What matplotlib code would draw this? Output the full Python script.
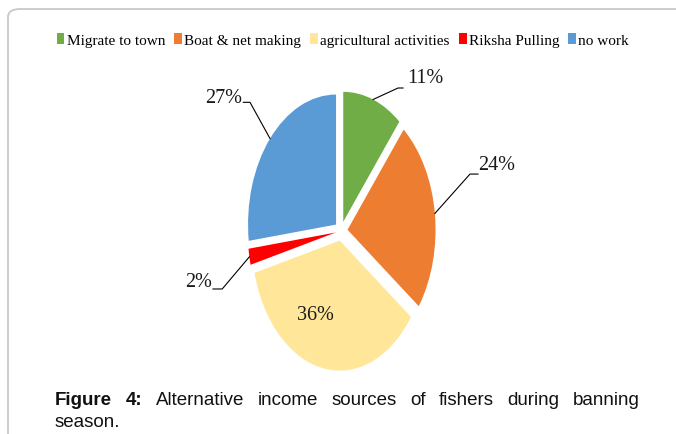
import numpy as np
import matplotlib.pyplot as plt
from matplotlib.patches import FancyBboxPatch, Patch

# data
labels = ['Migrate to town', 'Boat & net making', 'agricultural activities',
          'Riksha Pulling', 'no work']
shares = [11, 24, 36, 2, 27]
pct_text = ['11%', '24%', '36%', '2%', '27%']
colors = ['#70AD47', '#ED7D31', '#FFE699', '#FF0000', '#5B9BD5']

caption_bold = 'Figure 4:'
caption_line1 = 'Alternative income sources of fishers during banning'
caption_line2 = 'season.'

W, H = 676, 435
fig = plt.figure(figsize=(W / 100, H / 100), dpi=100)

def fx(px):
    return px / W

def fy(py):
    return 1 - py / H

# rounded frame around the chart
frame = FancyBboxPatch((fx(8), fy(470)), fx(760), fy(10) - fy(470),
                       boxstyle='round,pad=0,rounding_size=0.018',
                       transform=fig.transFigure, facecolor='none',
                       edgecolor='#c8c8c8', linewidth=1.3, clip_on=False)
fig.patches.append(frame)

# elliptical pie: axes taller than wide, aspect left free
ax = fig.add_axes([fx(209), fy(427), fx(264), 390 / H])
wedges, _ = ax.pie(shares, colors=colors, startangle=90, counterclock=False,
                   explode=[0.075, 0.075, 0.075, 0.06, 0.075], radius=1.0,
                   wedgeprops=dict(linewidth=0))
ax.set_aspect('auto')
ax.set_xlim(-1.5, 1.5)
ax.set_ylim(-1.5, 1.5)
ax.axis('off')

# label layout: (elbow, line end, text pos, ha) in data units
label_layout = [
    ((0.648, 1.10), (0.705, 1.10), (0.75, 1.177), 'left'),
    ((1.466, 0.438), (1.557, 0.438), (1.56, 0.515), 'left'),
    (None, None, (-0.295, -0.64), 'center'),
    ((-1.35, -0.446), (-1.455, -0.446), (-1.466, -0.385), 'right'),
    ((-1.034, 0.99), (-1.11, 0.99), (-1.125, 1.03), 'right'),
]
lab_font = dict(family='Liberation Serif', size=14.5, color='#1a1a1a')
for w, txt, (elbow, end, tpos, ha) in zip(wedges, pct_text, label_layout):
    if elbow is not None:
        mid = np.deg2rad((w.theta1 + w.theta2) / 2)
        cx, cy = w.center
        start = (cx + w.r * np.cos(mid), cy + w.r * np.sin(mid))
        ax.plot([start[0], elbow[0], end[0]], [start[1], elbow[1], end[1]],
                color='black', linewidth=0.8, clip_on=False)
    ax.text(tpos[0], tpos[1], txt, ha=ha, va='center', clip_on=False,
            **lab_font)

# legend across the top
handles = [Patch(facecolor=c, edgecolor='none') for c in colors]
fig.legend(handles, labels, loc='center', bbox_to_anchor=(fx(343), fy(41)),
           ncol=5, frameon=False, handlelength=0.5, handleheight=0.75,
           handletextpad=0.15, columnspacing=0.6, borderpad=0,
           prop=dict(family='Liberation Serif', size=11))

# justified caption below
cap_font = dict(family='Liberation Sans', size=13.5, color='#111111')
words = [(w, 'bold') for w in caption_bold.split()] + \
        [(w, 'normal') for w in caption_line1.split()]
left, right = 55, 640
fig.canvas.draw()
renderer = fig.canvas.get_renderer()
arts = []
for word, weight in words:
    t = fig.text(0, fy(401), word, ha='left', va='center',
                 fontweight=weight, **cap_font)
    arts.append(t)
widths = [a.get_window_extent(renderer).width for a in arts]
gap = (right - left - sum(widths)) / (len(arts) - 1)
x = left
for a, wd in zip(arts, widths):
    a.set_x(fx(x))
    x += wd + gap
fig.text(fx(left), fy(423), caption_line2, ha='left', va='center', **cap_font)

fig.savefig('out.png', dpi=100)
